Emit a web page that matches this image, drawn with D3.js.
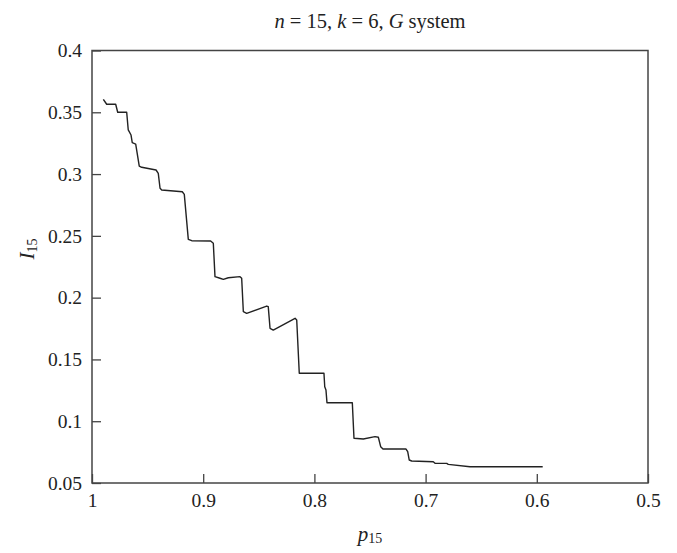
<!DOCTYPE html>
<html lang="en">

<head>
  <meta charset="UTF-8">
  <title>I15 vs p15</title>
  <script type="text/javascript" src="https://d3js.org/d3.v7.min.js"></script>
  <style>
    body { margin: 0; background: #fff; }
    text { font-family: "Liberation Serif", "DejaVu Serif", serif; fill: #222; }
  </style>
</head>

<body>
  <svg width="677" height="553"></svg>
  <script>

    // values
    var pValues = [0.9898, 0.9868, 0.9787, 0.9769, 0.9688, 0.9674, 0.9649, 0.9638, 0.9607, 0.9575,
      0.9553, 0.9424, 0.9404, 0.9388, 0.9373, 0.9188, 0.9170, 0.9134, 0.9103, 0.8933,
      0.8909, 0.8894, 0.8849, 0.8819, 0.8774, 0.8669, 0.8654, 0.8639, 0.8609, 0.8429,
      0.8415, 0.8399, 0.8370, 0.8174, 0.8159, 0.8136, 0.7914, 0.7907, 0.7896, 0.7887,
      0.7659, 0.7644, 0.7560, 0.7455, 0.7425, 0.7404, 0.7383, 0.7176, 0.7161, 0.7147,
      0.7125, 0.6931, 0.6915, 0.6810, 0.6796, 0.6601, 0.5947];
    var iValues = [0.3605, 0.3565, 0.3565, 0.3500, 0.3500, 0.3357, 0.3316, 0.3254, 0.3243, 0.3065,
      0.3055, 0.3033, 0.3006, 0.2885, 0.2871, 0.2857, 0.2836, 0.2472, 0.2461, 0.2458,
      0.2440, 0.2170, 0.2157, 0.2148, 0.2161, 0.2170, 0.2157, 0.1886, 0.1873, 0.1932,
      0.1927, 0.1752, 0.1738, 0.1833, 0.1819, 0.1388, 0.1388, 0.1279, 0.1253, 0.1150,
      0.1150, 0.0862, 0.0856, 0.0875, 0.0870, 0.0794, 0.0775, 0.0775, 0.0753, 0.0686,
      0.0678, 0.0672, 0.0659, 0.0659, 0.0651, 0.0632, 0.0632];
    var xTicks = [1, 0.9, 0.8, 0.7, 0.6, 0.5];
    var yTicks = [0.05, 0.1, 0.15, 0.2, 0.25, 0.3, 0.35, 0.4];

    var svg = d3.select("svg");
    var plotLeft = 92, plotRight = 648, plotTop = 50.5, plotBottom = 483;

    var x = d3.scaleLinear().domain([1, 0.5]).range([plotLeft, plotRight]);
    var y = d3.scaleLinear().domain([0.05, 0.4]).range([plotBottom, plotTop]);

    var data = pValues.map(function (p, i) { return { p: p, v: iValues[i] }; });

    // ticks point inward
    var xAxis = svg.append("g")
      .attr("transform", "translate(0," + plotBottom + ")")
      .call(d3.axisBottom(x).tickValues(xTicks).tickSize(-9).tickPadding(20).tickFormat(function (d) { return d; }));
    var yAxis = svg.append("g")
      .attr("transform", "translate(" + plotLeft + ",0)")
      .call(d3.axisLeft(y).tickValues(yTicks).tickSize(-9).tickPadding(10).tickFormat(function (d) { return d; }));

    [xAxis, yAxis].forEach(function (a) {
      a.select(".domain").remove();
      a.selectAll(".tick line").attr("stroke", "#444").attr("stroke-width", 1.3);
      a.selectAll(".tick text").attr("font-size", 19.5).attr("fill", "#222")
        .style("font-family", "'Liberation Serif', serif");
    });
    xAxis.selectAll(".tick text").attr("dy", 0).attr("y", 24);

    // frame
    svg.append("rect")
      .attr("x", plotLeft).attr("y", plotTop)
      .attr("width", plotRight - plotLeft).attr("height", plotBottom - plotTop)
      .attr("fill", "none").attr("stroke", "#444").attr("stroke-width", 1.5);

    // curve
    var line = d3.line()
      .x(function (d) { return x(d.p); })
      .y(function (d) { return y(d.v); });

    svg.append("path")
      .datum(data)
      .attr("d", line)
      .attr("fill", "none")
      .attr("stroke", "#222")
      .attr("stroke-width", 1.4)
      .attr("stroke-linejoin", "round");

    // title
    var title = svg.append("text")
      .attr("x", (plotLeft + plotRight) / 2).attr("y", 28)
      .attr("text-anchor", "middle").attr("font-size", 20.5);
    title.append("tspan").attr("font-style", "italic").text("n");
    title.append("tspan").text(" = 15, ");
    title.append("tspan").attr("font-style", "italic").text("k");
    title.append("tspan").text(" = 6, ");
    title.append("tspan").attr("font-style", "italic").text("G");
    title.append("tspan").text(" system");

    // axis labels
    var xl = svg.append("text")
      .attr("x", (plotLeft + plotRight) / 2).attr("y", 541)
      .attr("text-anchor", "middle").attr("font-size", 21);
    xl.append("tspan").attr("font-style", "italic").text("p");
    xl.append("tspan").attr("font-size", 14).attr("dy", 2).text("15");

    var yl = svg.append("text")
      .attr("transform", "translate(34,249) rotate(-90)")
      .attr("text-anchor", "middle").attr("font-size", 21);
    yl.append("tspan").attr("font-style", "italic").text("I");
    yl.append("tspan").attr("font-size", 14).attr("dy", 3).text("15");

  </script>
</body>

</html>
